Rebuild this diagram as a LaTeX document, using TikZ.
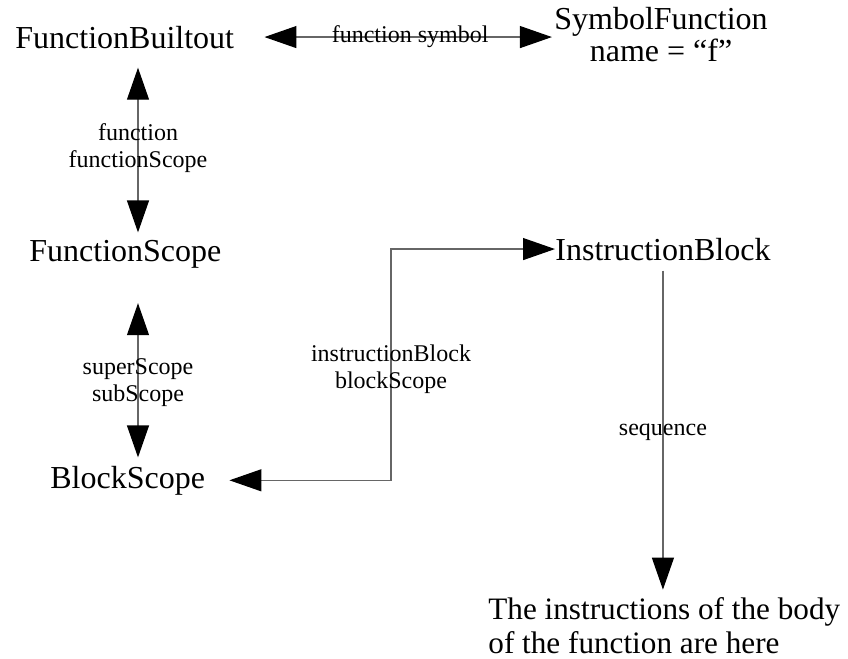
\documentclass[tikz,border=0pt]{standalone}
\usepackage{fontspec}
\setmainfont{Liberation Serif}
\usetikzlibrary{arrows.meta}
\tikzset{
  tname/.style={font=\fontsize{16}{14.5}\selectfont, inner sep=0pt, anchor=base},
  tlabel/.style={font=\fontsize{12}{13.5}\selectfont, align=center, inner sep=0pt},
  tlink/.style={draw=black!60, line width=0.6pt},
  dualhead/.style={{Triangle[length=16pt,width=11pt,color=black]}-{Triangle[length=16pt,width=11pt,color=black]}},
  onehead/.style={-{Triangle[length=16pt,width=11pt,color=black]}}
}
\begin{document}
\begin{tikzpicture}[x=0.5pt,y=-0.5pt]
\useasboundingbox (0,0) rectangle (848,659);
\node[tname,anchor=base west] (fb) at (15,48) {FunctionBuiltout};
\node[tname,align=center] (sf) at (661,61) {SymbolFunction\\name = “f”};
\node[tname,anchor=base west] (fs) at (29,261) {FunctionScope};
\node[tname,anchor=base west] (bs) at (50,488) {BlockScope};
\node[tname,anchor=base west] (ib) at (555,260) {InstructionBlock};
\node[tname,anchor=base west,align=left,font=\fontsize{15.6}{17}\selectfont] (body) at (488,653) {The instructions of the body\\of the function are here};
\coordinate (spine) at (138,0);
\coordinate (bend) at (391,0);
\draw[tlink,dualhead,shorten <=15pt,shorten >=1pt] (fb.east) -- node[tlabel,pos=0.55] {function symbol} (fb.east -| sf.west);
\draw[tlink,dualhead,shorten <=9.5pt,shorten >=3.5pt] (fb.south -| spine) -- node[tlabel,pos=0.52] {function\\functionScope} (fs.north -| spine);
\draw[tlink,dualhead,shorten <=17.5pt,shorten >=4pt] (fs.south -| spine) -- node[tlabel,pos=0.58] {superScope\\subScope} (bs.north -| spine);
\draw[tlink,dualhead,shorten >=12pt] (ib.west) -- (ib.west -| bend) -- node[tlabel,pos=0.52] {instructionBlock\\blockScope} (bs.east -| bend) -- (bs.east);
\draw[tlink,onehead,shorten <=5pt,shorten >=3.5pt] (ib.south) -- node[tlabel,pos=0.51] {sequence} (ib.south |- body.north);
\end{tikzpicture}
\end{document}
